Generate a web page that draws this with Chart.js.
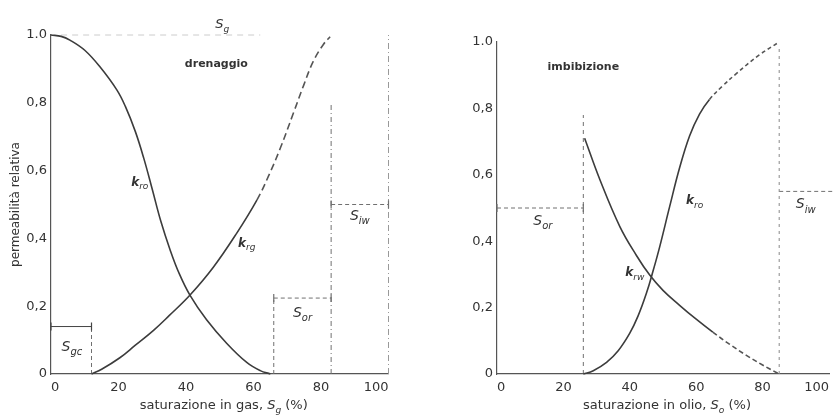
<!DOCTYPE html>
<html>
<head>
<meta charset="utf-8">
<script src="https://cdn.jsdelivr.net/npm/chart.js@4.4.1/dist/chart.umd.min.js"></script>
<style>
  html, body { margin:0; padding:0; background:#fff; overflow:hidden; }
  #wrap { position:relative; width:835px; height:418px; }
  canvas { position:absolute; top:0; }
</style>
</head>
<body>
<div id="wrap">
  <canvas id="cL" width="420" height="418" style="left:0;width:420px;height:418px"></canvas>
  <canvas id="cR" width="415" height="418" style="left:420px;width:415px;height:418px"></canvas>
</div>
<script>
// ---------- DATA ----------
// Left panel: drainage (x = gas saturation %)
const drainKroX = [0, 3, 5.6, 10, 14.5, 19.5, 22, 25, 27.5, 30, 32.5, 35.3, 38, 41.2, 46.1, 52.1, 58, 62, 65];
const drainKroY = [1.0, 0.996, 0.985, 0.955, 0.906, 0.838, 0.79, 0.715, 0.636, 0.545, 0.452, 0.366, 0.296, 0.232, 0.16, 0.09, 0.034, 0.01, 0];
const drainKrgX = [12, 15, 20.4, 25, 30.3, 35, 41.2, 48.1, 55, 61, 64.5, 67.9, 71.8, 74.8, 77.7, 80.7, 82.7];
const drainKrgY = [0, 0.014, 0.048, 0.085, 0.128, 0.172, 0.233, 0.315, 0.415, 0.513, 0.585, 0.665, 0.769, 0.85, 0.922, 0.972, 0.995];
// Right panel: imbibition (x = oil saturation %)
const imbKrwX = [26.4, 31, 37, 42, 46, 50, 55, 60, 65, 70, 75, 80, 85];
const imbKrwY = [0.71, 0.585, 0.444, 0.357, 0.298, 0.252, 0.207, 0.165, 0.126, 0.09, 0.057, 0.027, 0];
const imbKroX = [26, 29, 33, 36.5, 40, 42.5, 45, 47, 49, 52, 55, 58, 61, 64, 68, 72, 79, 85];
const imbKroY = [0, 0.01, 0.035, 0.07, 0.123, 0.175, 0.243, 0.31, 0.383, 0.504, 0.621, 0.717, 0.783, 0.827, 0.868, 0.904, 0.961, 1.0];

// characteristic saturations (%) and bracket levels
const drainSatMarks = [12, 66, 83, 100];      // Sgc end, Sor start, Sor end / Siw start, 100
const drainBracketY = [0.14, 0.224, 0.5, 0.8]; // Sgc bar, Sor bar, Siw bar, Siw drop top
const imbSatMarks = [26, 85, 100];            // Sor, 1-Siw, 100
const imbBracketY = [0.5, 0.78, 0.55, 0.98];  // Sor bar, Sor drop top, Siw bar, Siw drop top

// tick labels
const xTickLabels = ["0", "20", "40", "60", "80", "100"];
const yTickLabels = ["0", "0,2", "0,4", "0,6", "0,8", "1.0"];

// ---------- HELPERS ----------
const FONT = '"DejaVu Sans", "Liberation Sans", sans-serif';
const INK = '#333';
const CURVE = '#3c3c3c';
const GUIDE = '#707070';

function pts(xs, ys) { return xs.map((x, i) => ({ x: x, y: ys[i] })); }

function curve(data, dashFrom, dash) {
  return {
    data: data, borderColor: CURVE, borderWidth: 1.6, pointRadius: 0,
    tension: 0.4, fill: false, clip: 4,
    segment: dashFrom == null ? {} : {
      borderDash: ctx => ctx.p0.parsed.x >= dashFrom ? dash : undefined,
      borderColor: ctx => ctx.p0.parsed.x >= dashFrom ? '#555' : CURVE
    }
  };
}
function guide(data, dash, ends, color) {
  return {
    data: data, borderColor: color || GUIDE, borderWidth: 1, borderDash: dash || [],
    tension: 0, fill: false, clip: 6,
    pointRadius: ends ? 4 : 0, pointStyle: 'line', rotation: 90,
    pointBorderColor: color || GUIDE, pointBorderWidth: 1.2
  };
}

function fontFor(p, size) {
  const s = p.sub ? Math.round(size * 0.72) : size;
  return (p.it ? 'italic ' : '') + (p.b ? 'bold ' : '') + s + 'px ' + FONT;
}
function drawRich(ctx, parts, x, y, size, align) {
  let w = 0;
  parts.forEach(p => { ctx.font = fontFor(p, size); w += ctx.measureText(p.t).width; });
  let cx = align === 'left' ? x : x - w / 2;
  ctx.textAlign = 'left';
  ctx.textBaseline = 'middle';
  parts.forEach(p => {
    ctx.font = fontFor(p, size);
    ctx.fillText(p.t, cx, y + (p.sub ? size * 0.38 : 0));
    cx += ctx.measureText(p.t).width;
  });
}

const labelsPlugin = {
  id: 'richLabels',
  afterDatasetsDraw(chart, args, opts) {
    const ctx = chart.ctx, xs = chart.scales.x, ys = chart.scales.y;
    ctx.save();
    ctx.fillStyle = INK;
    (opts.items || []).forEach(it => {
      drawRich(ctx, it.parts, xs.getPixelForValue(it.x), ys.getPixelForValue(it.y), it.size, it.align);
    });
    if (opts.xTitle) {
      const a = chart.chartArea;
      drawRich(ctx, opts.xTitle, (a.left + a.right) / 2 + 4, 406, 13, 'center');
    }
    ctx.restore();
  }
};

function makeChart(id, datasets, opt) {
  return new Chart(document.getElementById(id), {
    type: 'line',
    data: { datasets: datasets },
    plugins: [labelsPlugin],
    options: {
      responsive: false, animation: false,
      layout: { padding: opt.padding },
      plugins: {
        legend: { display: false }, tooltip: { enabled: false },
        richLabels: { items: opt.items, xTitle: opt.xTitle }
      },
      scales: {
        x: {
          type: 'linear', min: 0, max: 100,
          ticks: { stepSize: 20, color: INK, font: { family: FONT, size: 13 }, padding: 6, align: 'inner',
                   callback: (v, i) => xTickLabels[i] },
          grid: { display: true, drawOnChartArea: false, drawTicks: false },
          border: { display: true, color: '#555', width: 1.2 },
          afterFit: a => { a.height = 44; }
        },
        y: {
          type: 'linear', min: 0, max: 1,
          ticks: { stepSize: 0.2, color: INK, font: { family: FONT, size: 13 }, padding: 4,
                   callback: (v, i) => yTickLabels[i] },
          grid: { display: true, drawOnChartArea: false, drawTicks: false },
          border: { display: true, color: '#555', width: 1.2 },
          title: opt.yTitle ? { display: true, text: opt.yTitle, color: INK,
                   font: { family: FONT, size: 12 }, padding: { top: 9, bottom: 0 } } : { display: false },
          afterFit: a => { a.width = opt.yWidth; }
        }
      }
    }
  });
}

// ---------- LEFT: drenaggio ----------
const dS = drainSatMarks, dB = drainBracketY;
makeChart('cL', [
  curve(pts(drainKroX, drainKroY)),
  curve(pts(drainKrgX, drainKrgY), 60, [7, 4]),
  guide([{x: 0, y: dB[0]}, {x: dS[0], y: dB[0]}], [], true, '#444'),
  guide([{x: dS[0], y: 0}, {x: dS[0], y: dB[0]}], [4, 3]),
  guide([{x: dS[1], y: 0}, {x: dS[1], y: dB[1]}], [4, 3]),
  guide([{x: dS[1], y: dB[1]}, {x: dS[2], y: dB[1]}], [4, 3], true),
  guide([{x: dS[2], y: 0}, {x: dS[2], y: dB[3]}], [5, 3, 1, 3]),
  guide([{x: dS[2], y: dB[2]}, {x: dS[3], y: dB[2]}], [4, 3], true),
  guide([{x: dS[3], y: 0}, {x: dS[3], y: 1.0}], [6, 3, 1, 3], false, '#999'),
  guide([{x: 3, y: 1.0}, {x: 62, y: 1.0}], [6, 5], false, '#ccc')
], {
  padding: { left: 0, top: 35, right: 31.5, bottom: 0 },
  yWidth: 51,
  yTitle: 'permeabilità relativa',
  xTitle: [{t: 'saturazione in gas, '}, {t: 'S', it: true}, {t: 'g', it: true, sub: true}, {t: ' (%)'}],
  items: [
    { x: 49, y: 0.915, size: 11, parts: [{t: 'drenaggio', b: true}] },
    { x: 50.7, y: 1.03, size: 13, parts: [{t: 'S', it: true}, {t: 'g', it: true, sub: true}] },
    { x: 26.3, y: 0.565, size: 12, parts: [{t: 'k', it: true, b: true}, {t: 'ro', it: true, sub: true}] },
    { x: 58, y: 0.385, size: 12, parts: [{t: 'k', it: true, b: true}, {t: 'rg', it: true, sub: true}] },
    { x: 6.2, y: 0.08, size: 14, parts: [{t: 'S', it: true}, {t: 'gc', it: true, sub: true}] },
    { x: 74.5, y: 0.18, size: 14, parts: [{t: 'S', it: true}, {t: 'or', it: true, sub: true}] },
    { x: 91.5, y: 0.465, size: 14, parts: [{t: 'S', it: true}, {t: 'iw', it: true, sub: true}] }
  ]
});

// ---------- RIGHT: imbibizione ----------
const iS = imbSatMarks, iB = imbBracketY;
makeChart('cR', [
  curve(pts(imbKrwX, imbKrwY), 62, [5, 3]),
  curve(pts(imbKroX, imbKroY), 63, [4, 3]),
  guide([{x: 0, y: iB[0]}, {x: iS[0], y: iB[0]}], [4, 3], true),
  guide([{x: iS[0], y: 0}, {x: iS[0], y: iB[1]}], [4, 4]),
  guide([{x: iS[1], y: 0}, {x: iS[1], y: iB[3]}], [3, 4], false, '#888'),
  guide([{x: iS[1], y: iB[2]}, {x: iS[2] + 2, y: iB[2]}], [4, 3], false)
], {
  padding: { left: 0, top: 42, right: 5, bottom: 0 },
  yWidth: 77,
  yTitle: null,
  xTitle: [{t: 'saturazione in olio, '}, {t: 'S', it: true}, {t: 'o', it: true, sub: true}, {t: ' (%)'}],
  items: [
    { x: 26, y: 0.925, size: 11, parts: [{t: 'imbibizione', b: true}] },
    { x: 59.5, y: 0.52, size: 12, parts: [{t: 'k', it: true, b: true}, {t: 'ro', it: true, sub: true}] },
    { x: 41.5, y: 0.305, size: 12, parts: [{t: 'k', it: true, b: true}, {t: 'rw', it: true, sub: true}] },
    { x: 13.8, y: 0.46, size: 14, parts: [{t: 'S', it: true}, {t: 'or', it: true, sub: true}] },
    { x: 93, y: 0.51, size: 14, parts: [{t: 'S', it: true}, {t: 'iw', it: true, sub: true}] }
  ]
});
</script>
</body>
</html>
